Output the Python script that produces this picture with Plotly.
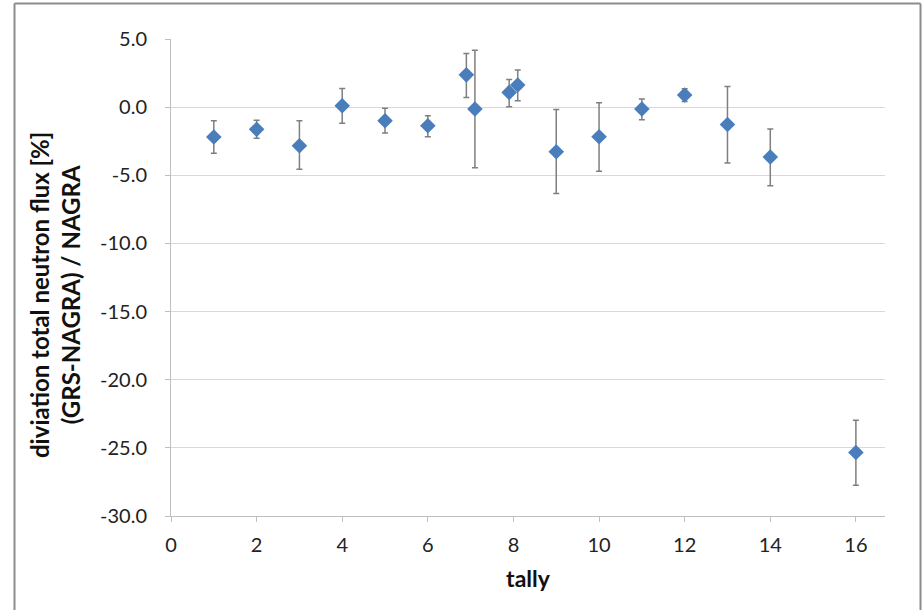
import plotly.graph_objects as go

tally = [1, 2, 3, 4, 5, 6, 6.9, 7.1, 7.9, 8.1, 9, 10, 11, 12, 13, 14, 16]
deviation = [-2.19, -1.63, -2.83, 0.1, -1.0, -1.36, 2.37, -0.14, 1.08, 1.62,
             -3.27, -2.17, -0.14, 0.89, -1.27, -3.66, -25.34]
err_plus = [1.2, 0.67, 1.84, 1.27, 0.91, 0.73, 1.56, 4.32, 0.95, 1.1,
            3.1, 2.49, 0.73, 0.46, 2.79, 2.05, 2.37]
err_minus = [1.2, 0.66, 1.73, 1.29, 0.9, 0.81, 1.66, 4.3, 1.05, 1.15,
             3.07, 2.54, 0.78, 0.47, 2.83, 2.1, 2.4]

y_ticks = [5, 0, -5, -10, -15, -20, -25, -30]
y_ticklabels = ["5.0", "0.0", "-5.0", "-10.0", "-15.0", "-20.0", "-25.0", "-30.0"]
x_ticks = [0, 2, 4, 6, 8, 10, 12, 14, 16]

fig = go.Figure()
fig.add_trace(go.Scatter(
    x=tally, y=deviation, mode="markers",
    marker=dict(symbol="diamond", size=12, color="#4A7EBB",
                line=dict(width=0)),
    error_y=dict(type="data", symmetric=False, array=err_plus,
                 arrayminus=err_minus, color="#7F7F7F", thickness=1.5, width=3),
    showlegend=False,
))

font_family = "Lato, 'Open Sans', sans-serif"
fig.update_layout(
    width=924, height=610,
    margin=dict(l=171, r=39, t=39, b=94),
    paper_bgcolor="white", plot_bgcolor="white",
    font=dict(family=font_family, size=20, color="#222222"),
    xaxis=dict(
        range=[0, 16.68], tickvals=x_ticks, showgrid=False, zeroline=False,
        showline=True, linecolor="#BFBFBF", linewidth=1,
        ticks="outside", ticklen=5, tickcolor="#BFBFBF",
        ticklabelstandoff=6,
        tickfont=dict(size=20, color="#222222"),
        title=dict(text="<b>tally</b>", font=dict(size=23, color="#111111"),
                   standoff=15),
    ),
    yaxis=dict(
        range=[-30, 5], tickvals=y_ticks, ticktext=y_ticklabels,
        showgrid=True, gridcolor="#D9D9D9", gridwidth=1, zeroline=False,
        showline=True, linecolor="#BFBFBF", linewidth=1,
        ticks="outside", ticklen=5, tickcolor="#BFBFBF",
        ticklabelstandoff=14,
        tickfont=dict(size=20, color="#222222"),
    ),
)

fig.add_annotation(
    text="<b>diviation total neutron flux [%]<br>(GRS-NAGRA) / NAGRA</b>",
    xref="paper", yref="paper",
    x=(55 - 171) / 714, y=(516 - 295) / 477,
    xanchor="center", yanchor="middle", textangle=-90, showarrow=False,
    align="center",
    font=dict(size=24, color="#111111", family=font_family),
)

# outer chart frame
frame = dict(type="line", xref="paper", yref="paper",
             line=dict(color="#8C8C8C", width=2), layer="above")
x_left = (14.5 - 171) / 714
x_right = (920.5 - 171) / 714
y_top = (516 - 3.5) / 477
y_bot = (516 - 615) / 477
fig.add_shape(x0=x_left, x1=x_left, y0=y_bot, y1=y_top, **frame)
fig.add_shape(x0=x_right, x1=x_right, y0=y_bot, y1=y_top, **frame)
fig.add_shape(x0=x_left, x1=x_right, y0=y_top, y1=y_top, **frame)

fig.write_html("out.html")
